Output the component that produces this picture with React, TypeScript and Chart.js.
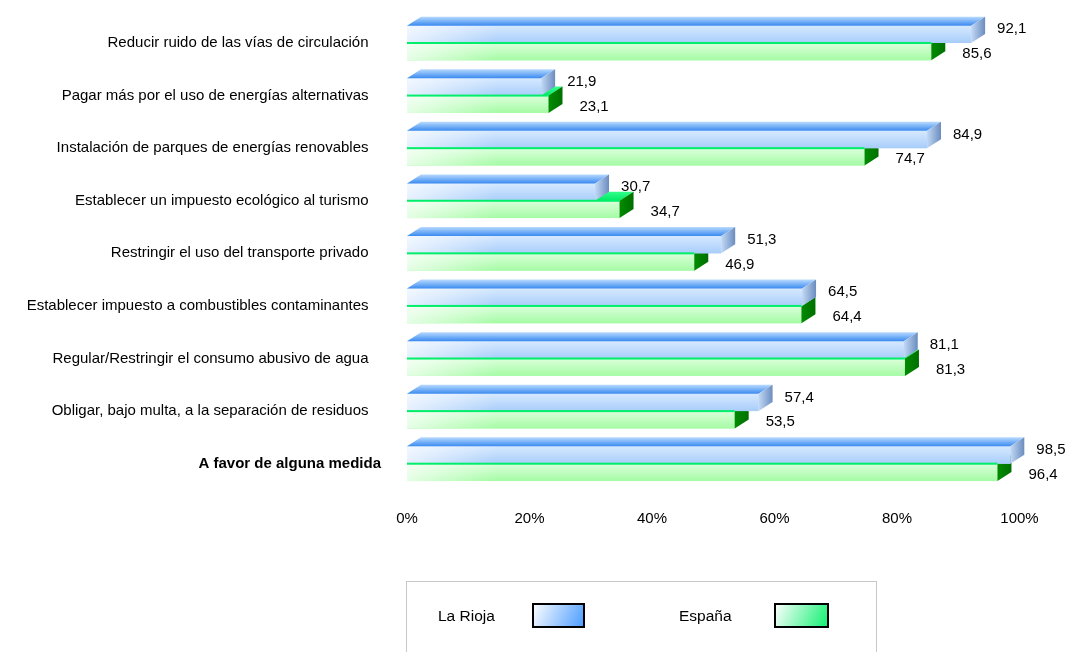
import { useEffect, useRef } from 'react';
import { Chart, registerables } from 'chart.js';

Chart.register(...registerables);

const categories = [
  'Reducir ruido de las vías de circulación',
  'Pagar más por el uso de energías alternativas',
  'Instalación de parques de energías renovables',
  'Establecer un impuesto ecológico al turismo',
  'Restringir el uso del transporte privado',
  'Establecer impuesto a combustibles contaminantes',
  'Regular/Restringir el consumo abusivo de agua',
  'Obligar, bajo multa, a la separación de residuos',
  'A favor de alguna medida',
];
const laRioja = [92.1, 21.9, 84.9, 30.7, 51.3, 64.5, 81.1, 57.4, 98.5];
const espana = [85.6, 23.1, 74.7, 34.7, 46.9, 64.4, 81.3, 53.5, 96.4];
const seriesNames = ['La Rioja', 'España'];
const xTickValues = [0, 20, 40, 60, 80, 100];

const FONT = "'Liberation Sans', Arial, sans-serif";
const DX = 14;
const DY = 9;

const styles = [
  {
    flat: '#c0dcfd',
    front: ['#d6e9ff', '#a8cdfa'],
    top: ['#b8daff', '#3a8af0'],
    side: ['#c2d9f6', '#6b8cbf'],
    swatch: ['#ffffff', '#4a9cff'],
    labelDx: 26,
    labelDy: -5,
  },
  {
    flat: '#c0fcc0',
    front: ['#dcffdc', '#a4fba4'],
    top: ['#30ff8a', '#00e865'],
    side: ['#008c00', '#006f00'],
    swatch: ['#ffffff', '#10f070'],
    labelDx: 31,
    labelDy: 2.5,
  },
];

const fmt = (v: number) => v.toFixed(1).replace('.', ',');

const bar3d = {
  id: 'bar3d',
  afterDatasetDraw(chart: any, args: any) {
    const i = args.index;
    const st = styles[i];
    const ctx = chart.ctx as CanvasRenderingContext2D;
    ctx.save();
    args.meta.data.forEach((el: any) => {
      const { x, y, base, height } = el.getProps(['x', 'y', 'base', 'height'], true);
      const l = Math.min(base, x);
      const r = Math.max(base, x);
      const t = y - height / 2;
      const b = y + height / 2;
      // front face
      const g = ctx.createLinearGradient(0, t, 0, b);
      g.addColorStop(0, st.front[0]);
      g.addColorStop(1, st.front[1]);
      ctx.fillStyle = g;
      ctx.fillRect(l, t, r - l, b - t);
      const w = Math.min(90, r - l);
      const hg = ctx.createLinearGradient(l, 0, l + 90, 0);
      hg.addColorStop(0, 'rgba(255,255,255,0.7)');
      hg.addColorStop(1, 'rgba(255,255,255,0)');
      ctx.fillStyle = hg;
      ctx.fillRect(l, t, w, b - t);
      // top face
      const tg = ctx.createLinearGradient(0, t - DY, 0, t);
      tg.addColorStop(0, st.top[0]);
      tg.addColorStop(1, st.top[1]);
      ctx.fillStyle = tg;
      ctx.beginPath();
      ctx.moveTo(l, t);
      ctx.lineTo(r, t);
      ctx.lineTo(r + DX, t - DY);
      ctx.lineTo(l + DX, t - DY);
      ctx.closePath();
      ctx.fill();
      // side face
      const sg = ctx.createLinearGradient(r, 0, r + DX, 0);
      sg.addColorStop(0, st.side[0]);
      sg.addColorStop(1, st.side[1]);
      ctx.fillStyle = sg;
      ctx.beginPath();
      ctx.moveTo(r, t);
      ctx.lineTo(r + DX, t - DY);
      ctx.lineTo(r + DX, b - DY);
      ctx.lineTo(r, b);
      ctx.closePath();
      ctx.fill();
    });
    ctx.restore();
  },
  afterDatasetsDraw(chart: any) {
    const ctx = chart.ctx as CanvasRenderingContext2D;
    ctx.save();
    // bright edge of the second series
    const m1 = chart.getDatasetMeta(1);
    m1.data.forEach((el: any) => {
      const { x, y, base, height } = el.getProps(['x', 'y', 'base', 'height'], true);
      const t = y - height / 2;
      ctx.fillStyle = '#00ee6a';
      ctx.fillRect(Math.min(base, x), t - 1, Math.abs(x - base), 2);
    });
    // value labels
    ctx.font = `15px ${FONT}`;
    ctx.fillStyle = '#000';
    ctx.textAlign = 'left';
    ctx.textBaseline = 'middle';
    chart.data.datasets.forEach((ds: any, di: number) => {
      const meta = chart.getDatasetMeta(di);
      meta.data.forEach((el: any, k: number) => {
        const { x, y } = el.getProps(['x', 'y'], true);
        ctx.fillText(fmt(ds.data[k]), x + styles[di].labelDx, y + styles[di].labelDy);
      });
    });
    ctx.restore();
  },
  afterDraw(chart: any) {
    const ctx = chart.ctx as CanvasRenderingContext2D;
    ctx.save();
    ctx.strokeStyle = '#c8c8c8';
    ctx.lineWidth = 1;
    ctx.strokeRect(406.5, 581.5, 470, 100);
    ctx.font = `15.5px ${FONT}`;
    ctx.fillStyle = '#000';
    ctx.textBaseline = 'middle';
    ctx.textAlign = 'left';
    const items = [
      { tx: 438, sx: 533, sw: 51 },
      { tx: 679, sx: 775, sw: 53 },
    ];
    chart.data.datasets.forEach((ds: any, di: number) => {
      const it = items[di];
      ctx.fillText(ds.label, it.tx, 617);
      const sy = 604;
      const sh = 23;
      const g = ctx.createLinearGradient(it.sx, sy, it.sx + it.sw, sy + sh);
      g.addColorStop(0, styles[di].swatch[0]);
      g.addColorStop(1, styles[di].swatch[1]);
      ctx.fillStyle = g;
      ctx.fillRect(it.sx, sy, it.sw, sh);
      ctx.strokeStyle = '#000';
      ctx.lineWidth = 2;
      ctx.strokeRect(it.sx, sy, it.sw, sh);
      ctx.fillStyle = '#000';
    });
    ctx.restore();
  },
};

export default function App() {
  const ref = useRef<HTMLCanvasElement | null>(null);
  useEffect(() => {
    if (!ref.current) return;
    const chart = new Chart(ref.current, {
      type: 'bar',
      data: {
        labels: categories,
        datasets: [
          { label: seriesNames[0], data: laRioja, backgroundColor: styles[0].flat, borderWidth: 0 },
          { label: seriesNames[1], data: espana, backgroundColor: styles[1].flat, borderWidth: 0 },
        ],
      },
      options: {
        indexAxis: 'y',
        responsive: false,
        animation: false,
        layout: { padding: { top: 16.7, right: 47.5, left: 0, bottom: 0 } },
        plugins: { legend: { display: false }, tooltip: { enabled: false } },
        datasets: { bar: { categoryPercentage: 0.66, barPercentage: 1 } },
        scales: {
          x: {
            min: 0,
            max: 100,
            grid: { display: false, drawTicks: false },
            border: { display: false },
            afterFit: (s: any) => { s.height = 162; s.paddingLeft = 0; s.paddingRight = 0; },
            afterBuildTicks: (s: any) => { s.ticks = xTickValues.map((v) => ({ value: v })); },
            ticks: {
              padding: 20,
              color: '#000',
              font: { family: FONT, size: 15 },
              callback: (v: any) => `${v}%`,
            },
          },
          y: {
            grid: { display: false, drawTicks: false },
            border: { display: false },
            afterFit: (s: any) => { s.width = 407; s.paddingTop = 0; s.paddingBottom = 0; },
            ticks: {
              padding: 26,
              color: '#000',
              autoSkip: false,
              font: (c: any) => ({ family: FONT, size: 15, weight: c.index === categories.length - 1 ? 'bold' : 'normal' }),
              callback: (_v: any, idx: number) => categories[idx] + (idx === categories.length - 1 ? '' : '   '),
            },
          },
        },
      },
      plugins: [bar3d],
    });
    return () => chart.destroy();
  }, []);
  return (
    <div style={{ position: 'fixed', left: 0, top: 0, width: 1067, height: 652, background: '#fff' }}>
      <canvas ref={ref} width={1067} height={652} style={{ display: 'block' }} />
    </div>
  );
}
